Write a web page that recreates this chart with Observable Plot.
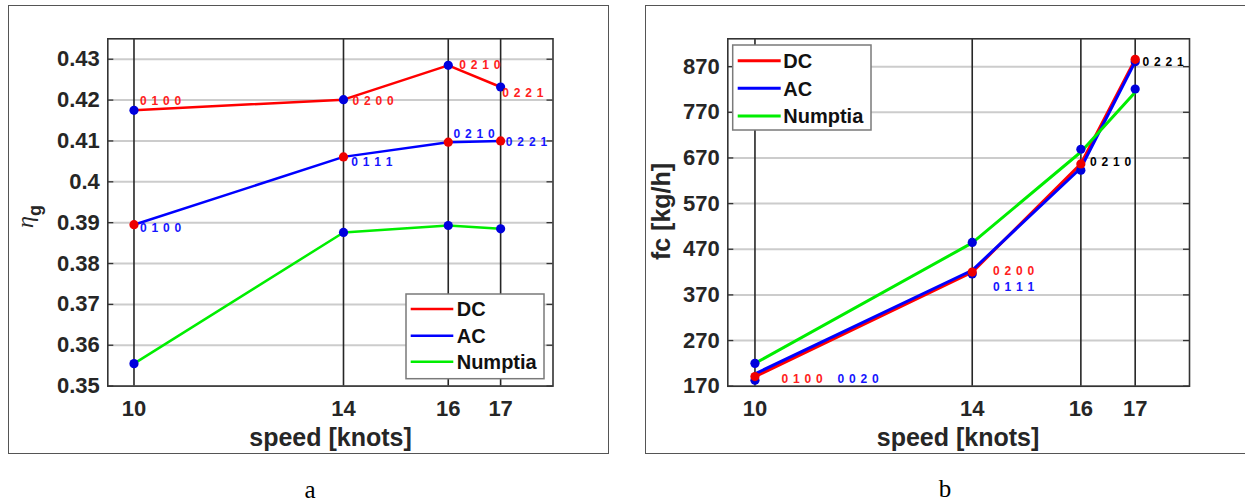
<!DOCTYPE html>
<html><head><meta charset="utf-8">
<script src="https://cdn.jsdelivr.net/npm/d3@7"></script>
<script src="https://cdn.jsdelivr.net/npm/@observablehq/plot@0.6"></script>
<style>
html,body{margin:0;padding:0;background:#fff;}
#root{position:relative;width:1245px;height:504px;overflow:hidden;font-family:"Liberation Sans",Arial,sans-serif;}
.frame{position:absolute;border:1.5px solid #555;box-sizing:border-box;}
.panel{position:absolute;top:0;}
.codes text{letter-spacing:0.75px;}
.cap{position:absolute;font-family:"Liberation Serif","DejaVu Serif",serif;font-size:25px;color:#000;transform:translate(-50%,-50%);line-height:1;}
</style></head><body><div id="root"></div>
<script>
// ---------- shared ----------
const speeds = [10, 14, 16, 17];
const speedTicks = [10, 14, 16, 17];
const speedTickLabels = ["10", "14", "16", "17"];
const seriesNames = ["DC", "AC", "Numptia"];

// ---------- panel a : eta_g ----------
const etaDC = [0.4175, 0.4201, 0.4285, 0.4232];
const etaAC = [0.3895, 0.4061, 0.4097, 0.4100];
const etaNumptia = [0.3555, 0.3876, 0.3893, 0.3885];
const etaTicks = [0.35, 0.36, 0.37, 0.38, 0.39, 0.40, 0.41, 0.42, 0.43];
const etaTickLabels = ["0.35", "0.36", "0.37", "0.38", "0.39", "0.4", "0.41", "0.42", "0.43"];
const etaLabelText = ["0 1 0 0", "0 2 0 0", "0 2 1 0", "0 2 2 1", "0 1 0 0", "0 1 1 1", "0 2 1 0", "0 2 2 1"];
const etaLabelSpeed = [10.115, 14.17, 16.21, 17.03, 10.115, 14.15, 16.10, 17.10];
const etaLabelValue = [0.4198, 0.4198, 0.4285, 0.4216, 0.3887, 0.4047, 0.4116, 0.4096];
const etaLabelSeries = ["DC", "DC", "DC", "DC", "AC", "AC", "AC", "AC"];

// ---------- panel b : fuel consumption ----------
const fcDC = [191, 420, 657, 886];
const fcAC = [197, 424, 648, 881];
const fcACMarkers = [183, 416, 643, 881];
const fcNumptia = [220, 484, 683, 814];
const fcNumptiaMarkers = [220, 485, 689, 821];
const fcTicks = [170, 270, 370, 470, 570, 670, 770, 870];
const fcTickLabels = ["170", "270", "370", "470", "570", "670", "770", "870"];
const fcLabelText = ["0 2 2 1", "0 2 1 0", "0 2 0 0", "0 1 1 1", "0 1 0 0", "0 0 2 0"];
const fcLabelSpeed = [17.136, 16.17, 14.384, 14.384, 10.49, 11.52];
const fcLabelValue = [878.8, 660.2, 421.7, 387.2, 184.7, 184.7];
const fcLabelSeries = ["none", "none", "DC", "AC", "DC", "AC"];

// ---------- styles ----------
const lineColor = {DC: "#ff0000", AC: "#0000ff", Numptia: "#00ee00"};
const labelColor = {DC: "#ff2020", AC: "#1515ff", none: "#000000"};
const FONT = '"Liberation Sans", Arial, sans-serif';
const TICKCOL = "#262626";

const pts = (vals) => speeds.map((s, i) => ({s, v: vals[i]}));

function panel({width, height, ml, mr, mt, mb, ydomain, yTicks, yTickLabels, lines, dots, labels, lw}) {
  const plotW = width - ml - mr;
  return Plot.plot({
    width, height,
    marginLeft: ml, marginRight: mr, marginTop: mt, marginBottom: mb,
    x: {domain: [9.5, 18]},
    y: {domain: ydomain},
    style: {background: "transparent", fontFamily: FONT, fontWeight: "bold", overflow: "visible"},
    marks: [
      Plot.gridY(yTicks, {stroke: "#cccccc", strokeOpacity: 1, strokeWidth: 2}),
      Plot.gridX(speedTicks, {stroke: "#262626", strokeOpacity: 1, strokeWidth: 1.6}),
      Plot.tickY(yTicks, {y: d => d, insetRight: plotW - 6, stroke: "#333", strokeWidth: 1.3}),
      Plot.tickY(yTicks, {y: d => d, insetLeft: plotW - 6, stroke: "#333", strokeWidth: 1.3}),
      Plot.frame({stroke: "#333", strokeWidth: 1.6}),
      Plot.axisY(yTicks, {tickSize: 0, tickPadding: 8, fontSize: 22, fontWeight: "bold", color: TICKCOL,
        tickFormat: d => yTickLabels[yTicks.indexOf(d)], label: null}),
      Plot.axisX(speedTicks, {tickSize: 0, tickPadding: 14, fontSize: 22, fontWeight: "bold", color: TICKCOL,
        tickFormat: d => speedTickLabels[speedTicks.indexOf(d)], label: null}),
      ...lines.map(([vals, name]) => Plot.line(pts(vals), {x: "s", y: "v", stroke: lineColor[name], strokeWidth: lw})),
      ...dots.map(([vals, col]) => Plot.dot(pts(vals), {x: "s", y: "v", r: 4.6, fill: col, stroke: null})),
      Plot.text(labels.text.map((t, i) => i), {
        x: i => labels.speed[i], y: i => labels.value[i], text: i => labels.text[i],
        fill: i => labelColor[labels.series[i]], textAnchor: "start", fontSize: 12, fontWeight: "bold",
        className: "codes"
      })
    ]
  });
}

const root = document.getElementById("root");
function addDiv(cls, css, txt) {
  const d = document.createElement("div");
  d.className = cls; Object.assign(d.style, css);
  if (txt) d.textContent = txt;
  root.appendChild(d); return d;
}
addDiv("frame", {left: "8px", top: "5px", width: "601px", height: "449px"});
addDiv("frame", {left: "645px", top: "5px", width: "640px", height: "449px"});

// panel a
const svgA = panel({
  width: 620, height: 504, ml: 107.3, mr: 67.5, mt: 38.3, mb: 118.4,
  ydomain: [0.35, 0.435], yTicks: etaTicks, yTickLabels: etaTickLabels, lw: 2.5,
  lines: [[etaDC, "DC"], [etaAC, "AC"], [etaNumptia, "Numptia"]],
  dots: [[etaDC, "#0000dd"], [etaAC, "#ee0000"], [etaNumptia, "#0000dd"]],
  labels: {text: etaLabelText, speed: etaLabelSpeed, value: etaLabelValue, series: etaLabelSeries}
});
svgA.classList.add("panel"); svgA.style.left = "0px";
root.appendChild(svgA);

// panel b
const svgB = panel({
  width: 625, height: 504, ml: 107.3, mr: 56, mt: 38.3, mb: 118.3,
  ydomain: [170, 931], yTicks: fcTicks, yTickLabels: fcTickLabels, lw: 3,
  lines: [[fcDC, "DC"], [fcAC, "AC"], [fcNumptia, "Numptia"]],
  dots: [[fcNumptiaMarkers, "#0000dd"], [fcACMarkers, "#0000dd"], [fcDC, "#ee0000"]],
  labels: {text: fcLabelText, speed: fcLabelSpeed, value: fcLabelValue, series: fcLabelSeries}
});
svgB.classList.add("panel"); svgB.style.left = "620px";
root.appendChild(svgB);

// axis titles
function xTitle(svg, cx) {
  d3.select(svg).append("text").attr("x", cx).attr("y", 446.4).attr("text-anchor", "middle")
    .attr("font-size", 25).attr("font-weight", "bold").attr("fill", TICKCOL).text("speed [knots]");
}
xTitle(svgA, 330.5);
xTitle(svgB, 338);

const eta = d3.select(svgA).append("text").attr("transform", "translate(32.6,228) rotate(-90)")
  .attr("text-anchor", "start").attr("fill", TICKCOL);
eta.append("tspan").attr("font-family", '"Liberation Serif", serif').attr("font-style", "italic")
  .attr("font-weight", "normal").attr("font-size", 24).text("η");
eta.append("tspan").attr("font-size", 18).attr("font-weight", "bold").attr("dy", 8.8).text("g");

d3.select(svgB).append("text").attr("transform", "translate(49.8,211.5) rotate(-90)")
  .attr("text-anchor", "middle").attr("font-size", 25).attr("font-weight", "bold").attr("fill", TICKCOL)
  .text("fc [kg/h]");

// legends
function legend(svg, box, lx1, lx2, tx, ys, lw) {
  const g = d3.select(svg).append("g").attr("text-anchor", "start");
  g.append("rect").attr("x", box[0]).attr("y", box[1]).attr("width", box[2]).attr("height", box[3])
    .attr("fill", "#fff").attr("stroke", "#7a7a7a").attr("stroke-width", 1.5);
  seriesNames.forEach((name, i) => {
    g.append("line").attr("x1", lx1).attr("x2", lx2).attr("y1", ys[i]).attr("y2", ys[i])
      .attr("stroke", lineColor[name]).attr("stroke-width", lw);
    g.append("text").attr("x", tx).attr("y", ys[i]).attr("dy", "0.36em").attr("font-size", 20)
      .attr("text-anchor", "start").attr("font-weight", "bold").attr("fill", "#111").text(name);
  });
}
legend(svgA, [406, 294, 138, 84.7], 410.7, 453.3, 456.7, [309, 335.7, 361.7], 2.5);
legend(svgB, [112.7, 45, 138.3, 85], 117.7, 160.7, 163.3, [60.7, 88.3, 116], 3);

// captions
addDiv("cap", {left: "310px", top: "489px"}, "a");
addDiv("cap", {left: "945px", top: "488px"}, "b");
</script>
</body></html>
